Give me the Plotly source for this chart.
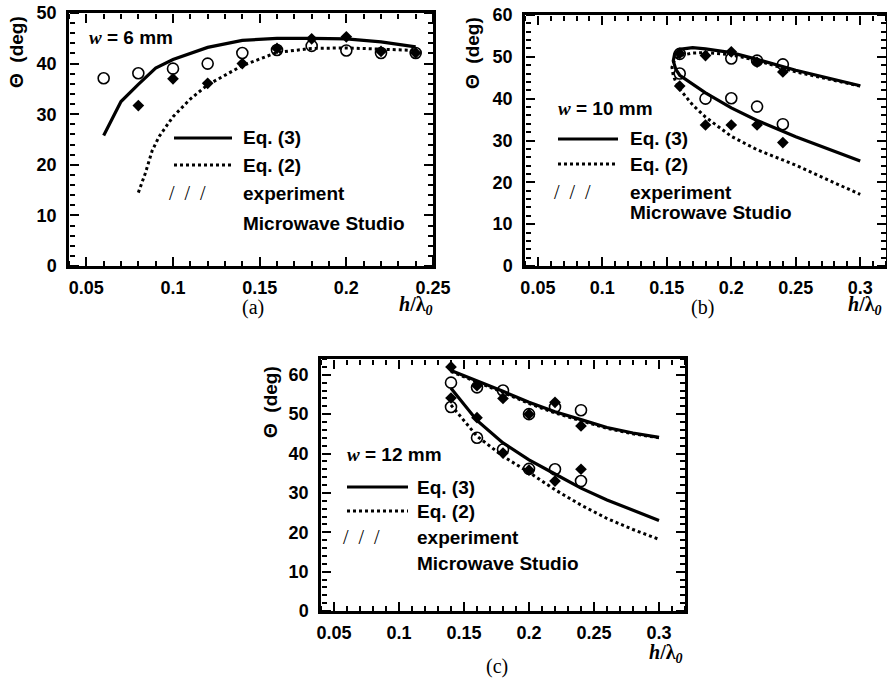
import plotly.graph_objects as go

W, H = 887, 679

# ---------------- data ----------------
# panel (a) w = 6 mm
a_eq3_x = [0.06, 0.07, 0.08, 0.09, 0.10, 0.12, 0.14, 0.16, 0.18, 0.20, 0.22, 0.24]
a_eq3_y = [25.8, 32.5, 35.9, 39.1, 40.8, 43.2, 44.6, 45.0, 45.0, 44.9, 44.3, 43.3]
a_eq2_x = [0.080, 0.084, 0.088, 0.092, 0.100, 0.110, 0.120, 0.140, 0.160, 0.180, 0.200, 0.220, 0.240]
a_eq2_y = [14.5, 18.3, 22.8, 25.6, 29.5, 33.0, 35.8, 39.6, 42.2, 43.0, 43.1, 42.9, 42.6]
a_mws_x = [0.06, 0.08, 0.10, 0.12, 0.14, 0.16, 0.18, 0.20, 0.22, 0.24]
a_mws_y = [37.1, 38.1, 39.0, 40.0, 42.1, 42.7, 43.5, 42.6, 42.1, 42.1]
a_exp_x = [0.08, 0.10, 0.12, 0.14, 0.16, 0.18, 0.20, 0.22, 0.24]
a_exp_y = [31.7, 37.0, 36.1, 40.0, 43.0, 44.9, 45.3, 42.4, 42.1]

# panel (b) w = 10 mm
b_eq3_x = [0.30, 0.25, 0.22, 0.20, 0.18, 0.17, 0.16, 0.156, 0.155, 0.157, 0.16, 0.17, 0.18, 0.20, 0.22, 0.25, 0.30]
b_eq3_y = [43.1, 46.8, 49.4, 51.0, 51.9, 52.2, 51.8, 50.6, 49.0, 47.0, 45.6, 43.6, 41.4, 37.8, 34.8, 30.9, 25.1]
b_eq2_x = [0.30, 0.25, 0.22, 0.20, 0.18, 0.17, 0.16, 0.156, 0.154, 0.155, 0.157, 0.16, 0.17, 0.18, 0.20, 0.22, 0.25, 0.30]
b_eq2_y = [43.0, 46.4, 49.1, 50.5, 51.0, 50.9, 50.3, 49.3, 47.5, 45.5, 44.0, 42.3, 38.5, 35.6, 31.0, 27.8, 24.1, 17.1]
b_mws_x = [0.16, 0.16, 0.18, 0.20, 0.20, 0.22, 0.22, 0.24, 0.24]
b_mws_y = [50.7, 46.0, 40.0, 49.6, 40.1, 49.1, 38.1, 48.2, 33.9]
b_exp_x = [0.16, 0.16, 0.18, 0.18, 0.20, 0.20, 0.22, 0.22, 0.24, 0.24]
b_exp_y = [50.8, 43.0, 50.3, 33.7, 51.2, 33.7, 48.7, 33.7, 46.4, 29.5]

# panel (c) w = 12 mm
c_x = [0.14, 0.16, 0.18, 0.20, 0.22, 0.24, 0.26, 0.28, 0.30]
c_eq3_up = [61.1, 58.5, 55.8, 53.0, 50.6, 48.6, 46.6, 45.2, 44.1]
c_eq3_lo = [56.6, 48.4, 42.7, 38.4, 34.8, 31.2, 28.2, 25.5, 23.0]
c_eq2_up = [60.8, 58.2, 55.5, 52.7, 50.3, 48.3, 46.4, 45.0, 44.0]
c_eq2_lo = [52.3, 44.4, 39.3, 35.2, 30.8, 26.9, 23.5, 20.7, 18.2]
c_pts_x = [0.14, 0.14, 0.16, 0.16, 0.18, 0.18, 0.20, 0.20, 0.22, 0.22, 0.24, 0.24]
c_mws_y = [58.0, 51.8, 56.8, 44.0, 56.0, 41.0, 50.0, 36.1, 51.8, 36.0, 51.0, 33.0]
c_exp_y = [62.0, 54.1, 57.2, 49.1, 54.0, 40.1, 50.0, 35.8, 53.0, 33.0, 47.0, 36.0]

# ---------------- figure ----------------
fig = go.Figure()

SANS = "Liberation Sans, Arial, sans-serif"
SERIF = "Liberation Serif, Times New Roman, serif"


def ax_name(letter, n):
    return letter if n == 1 else f"{letter}{n}"


def add_panel(ax, eq3, eq2, mws, exp):
    xa = ax_name("x", ax)
    ya = ax_name("y", ax)
    for (xs, ys) in eq2:
        fig.add_trace(go.Scatter(x=xs, y=ys, mode="lines", xaxis=xa, yaxis=ya,
                                 line=dict(color="black", width=3, dash="dot"),
                                 name="Eq. (2)", showlegend=False))
    for (xs, ys) in eq3:
        fig.add_trace(go.Scatter(x=xs, y=ys, mode="lines", xaxis=xa, yaxis=ya,
                                 line=dict(color="black", width=3.2),
                                 name="Eq. (3)", showlegend=False))
    fig.add_trace(go.Scatter(x=mws[0], y=mws[1], mode="markers", xaxis=xa, yaxis=ya,
                             marker=dict(symbol="circle-open", size=11, color="black",
                                         line=dict(width=1.6, color="black")),
                             name="Microwave Studio", showlegend=False))
    fig.add_trace(go.Scatter(x=exp[0], y=exp[1], mode="markers", xaxis=xa, yaxis=ya,
                             marker=dict(symbol="diamond", size=9, color="black"),
                             name="experiment", showlegend=False))


add_panel(1, [(a_eq3_x, a_eq3_y)], [(a_eq2_x, a_eq2_y)], (a_mws_x, a_mws_y), (a_exp_x, a_exp_y))
add_panel(2, [(b_eq3_x, b_eq3_y)], [(b_eq2_x, b_eq2_y)], (b_mws_x, b_mws_y), (b_exp_x, b_exp_y))
add_panel(3, [(c_x, c_eq3_up), (c_x, c_eq3_lo)], [(c_x, c_eq2_up), (c_x, c_eq2_lo)],
          (c_pts_x, c_mws_y), (c_pts_x, c_exp_y))


def px_x(p):
    return p / W


def px_y(p):
    return 1 - p / H


tickfont = dict(family=SANS, size=18, color="black", weight="bold")

# panel geometry in pixels: (x_left, x_right), (y_top, y_bottom), x range, y range
panels = [
    ((69, 433), (13, 266), [0.04, 0.25], [0, 50]),
    ((525, 886), (15, 266), [0.04, 0.32], [0, 60]),
    ((321, 685), (359, 611), [0.04, 0.32], [0, 64]),
]

layout_axes = {}
next_id = [4]


def tick_axis(dtick, mdtick, rng):
    return dict(range=rng, dtick=dtick, tick0=0, tickmode="linear", layer="above traces",
                ticks="outside", ticklen=9, tickwidth=2, tickcolor="black",
                minor=dict(ticks="outside", ticklen=5, tickwidth=1.5, tickcolor="black",
                           dtick=mdtick, tick0=0, showgrid=False),
                showticklabels=False, showline=False, showgrid=False, zeroline=False,
                anchor="free")


for i, (xd, yd, xr, yr) in enumerate(panels, start=1):
    xdom = [px_x(xd[0]), px_x(xd[1])]
    ydom = [px_y(yd[1]), px_y(yd[0])]
    layout_axes[f"xaxis{'' if i == 1 else i}"] = dict(
        domain=xdom, range=xr, anchor=ax_name("y", i), dtick=0.05, tick0=0, tickmode="linear",
        showline=True, linecolor="black", linewidth=2.5, mirror=True, ticks="",
        showgrid=False, zeroline=False, tickfont=tickfont, ticklabelstandoff=4)
    layout_axes[f"yaxis{'' if i == 1 else i}"] = dict(
        domain=ydom, range=yr, anchor=ax_name("x", i), dtick=10, tick0=0, tickmode="linear",
        showline=True, linecolor="black", linewidth=2.5, mirror=True, ticks="",
        showgrid=False, zeroline=False, tickfont=tickfont, ticklabelstandoff=6)
    # inner tick marks: axes drawn with outward ticks from the opposite side
    for side, pos in (("top", ydom[0]), ("bottom", ydom[1])):
        k = next_id[0]
        next_id[0] += 1
        d = tick_axis(0.05, 0.01, xr)
        d.update(overlaying=ax_name("x", i), side=side, position=pos)
        layout_axes[f"xaxis{k}"] = d
        fig.add_trace(go.Scatter(x=[], y=[], xaxis=f"x{k}", yaxis=ax_name("y", i),
                                 showlegend=False, hoverinfo="skip"))
    for side, pos in (("right", xdom[0]), ("left", xdom[1])):
        k = next_id[0]
        next_id[0] += 1
        d = tick_axis(10, 2, yr)
        d.update(overlaying=ax_name("y", i), side=side, position=pos)
        layout_axes[f"yaxis{k}"] = d
        fig.add_trace(go.Scatter(x=[], y=[], xaxis=ax_name("x", i), yaxis=f"y{k}",
                                 showlegend=False, hoverinfo="skip"))

fig.update_layout(
    width=W, height=H,
    margin=dict(l=0, r=0, t=0, b=0, autoexpand=False),
    paper_bgcolor="white", plot_bgcolor="white",
    showlegend=False,
    **layout_axes,
)

annots = []
shapes = []


def text(x, y, s, size=19, family=SANS, anchor="left", angle=0, weight="bold"):
    annots.append(dict(x=px_x(x), y=px_y(y), xref="paper", yref="paper", text=s,
                       showarrow=False, xanchor=anchor, yanchor="middle", textangle=angle,
                       font=dict(family=family, size=size, color="black", weight=weight)))


def legend_block(wx, wy, wlabel, lx0, lx1, tx, y3, y2, yexp, ymws, sx0):
    text(wx, wy, f"<span style='font-family:Liberation Serif;font-style:italic'>w</span> = {wlabel} mm")
    shapes.append(dict(type="line", xref="paper", yref="paper", x0=px_x(lx0), x1=px_x(lx1),
                       y0=px_y(y3), y1=px_y(y3), line=dict(color="black", width=3.2)))
    shapes.append(dict(type="line", xref="paper", yref="paper", x0=px_x(lx0), x1=px_x(lx1),
                       y0=px_y(y2), y1=px_y(y2), line=dict(color="black", width=3, dash="dot")))
    text(tx, y3, "Eq. (3)")
    text(tx, y2, "Eq. (2)")
    text(sx0, yexp, "/  /  /", size=20, family=SERIF, weight="normal")
    text(tx, yexp, "experiment")
    text(tx, ymws, "Microwave Studio")


legend_block(87, 37, "6", 174, 232, 241, 138, 165, 193, 224, 167)
legend_block(556, 108, "10", 558, 618, 628, 139, 164, 192, 212, 552)
legend_block(345, 455, "12", 347, 408, 415, 487, 511, 537, 563, 341)

# axis titles
theta = "Θ  (deg)"
text(17, 52, theta, size=19, anchor="center", angle=-90)
text(473, 53, theta, size=19, anchor="center", angle=-90)
text(270, 402, theta, size=19, anchor="center", angle=-90)

hl = "<i>h</i>/λ<sub><i>0</i></sub>"
text(416, 306, hl, size=20, family=SERIF, anchor="center")
text(865, 306, hl, size=20, family=SERIF, anchor="center")
text(666, 653, hl, size=20, family=SERIF, anchor="center")

text(253, 308, "(a)", size=20, family=SERIF, anchor="center", weight="normal")
text(702, 308, "(b)", size=20, family=SERIF, anchor="center", weight="normal")
text(497, 666, "(c)", size=20, family=SERIF, anchor="center", weight="normal")

fig.update_layout(annotations=annots, shapes=shapes)

fig.write_html("out.html", config={"displayModeBar": False},
               post_script="document.body.style.margin='0';document.body.style.padding='0';document.body.style.overflow='hidden';")
